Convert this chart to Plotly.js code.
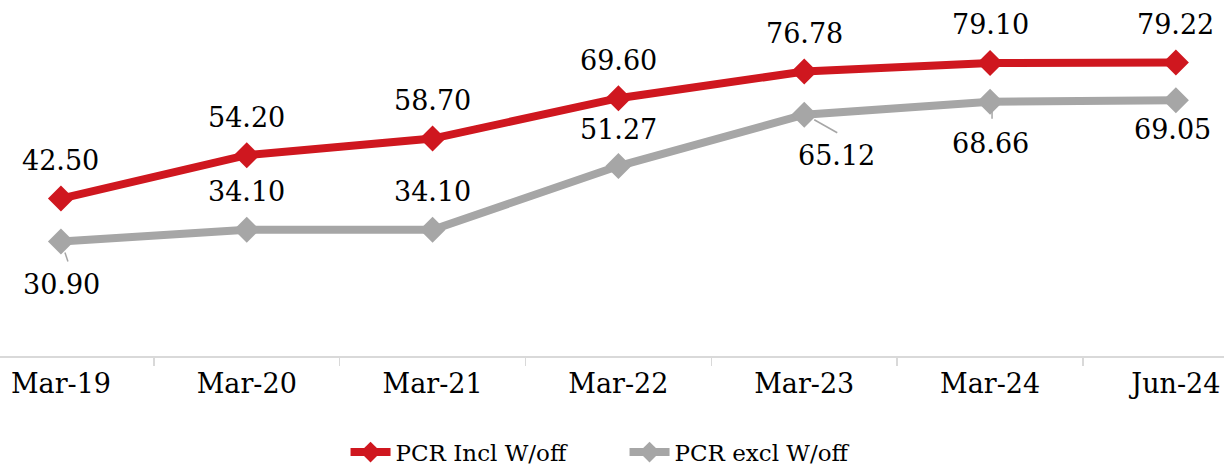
<!DOCTYPE html>
<html><head><meta charset="utf-8">
<script src="https://cdn.plot.ly/plotly-3.0.1.min.js"></script>
<style>
html,body{margin:0;padding:0;background:#fff}#chart{width:1224px;height:468px}
</style>
</head><body><div id="chart"></div>
<script>
const categories = ["Mar-19","Mar-20","Mar-21","Mar-22","Mar-23","Mar-24","Jun-24"];
const pcrIncl = [42.50, 54.20, 58.70, 69.60, 76.78, 79.10, 79.22];
const pcrExcl = [30.90, 34.10, 34.10, 51.27, 65.12, 68.66, 69.05];
const seriesNames = ["PCR Incl W/off", "PCR excl W/off"];

// label placement (pixel offsets from the point; positive y = up)
const inclOffsets = [[0,38],[0,38],[0,38],[0,38],[0,38],[0,38],[0,38]];
const exclOffsets = [[1,-43],[0,38],[0,38],[0,37],[32,-41],[0,-42],[-3,-29]];
// leader lines: [index, x0, y0, x1, y1] in pixels relative to point
const exclLeaders = [[0,4,-11,7,-20],[4,10,-5,33,-18],[5,2,-10,2,-17]];

const RED = "#cf171f", GRAY = "#a6a6a6";
const FONT = "DejaVu Serif";

const traces = [
  {x: categories, y: pcrIncl, name: seriesNames[0], type: "scatter", mode: "lines+markers",
   line: {color: RED, width: 8}, marker: {symbol: "diamond", size: 20, color: RED}},
  {x: categories, y: pcrExcl, name: seriesNames[1], type: "scatter", mode: "lines+markers",
   line: {color: GRAY, width: 8}, marker: {symbol: "diamond", size: 20, color: GRAY}}
];

const annotations = [];
categories.forEach((c,i)=>{
  annotations.push({x: i, y: pcrIncl[i], xref:"x", yref:"y", text: pcrIncl[i].toFixed(2),
    showarrow:false, xshift: inclOffsets[i][0], yshift: inclOffsets[i][1],
    font:{family:FONT, size:27, color:"#000"}});
  annotations.push({x: i, y: pcrExcl[i], xref:"x", yref:"y", text: pcrExcl[i].toFixed(2),
    showarrow:false, xshift: exclOffsets[i][0], yshift: exclOffsets[i][1],
    font:{family:FONT, size:27, color:"#000"}});
});
const shapes = exclLeaders.map(l=>({type:"line", xref:"x", yref:"y",
  xsizemode:"pixel", ysizemode:"pixel", xanchor:l[0], yanchor:pcrExcl[l[0]],
  x0:l[1], y0:l[2], x1:l[3], y1:l[4], line:{color:GRAY, width:1.5}}));

const layout = {
  width:1224, height:468,
  font:{family:FONT, size:27, color:"#000"},
  margin:{l:0, r:0, t:0, b:112, autoexpand:false},
  paper_bgcolor:"#fff", plot_bgcolor:"#fff",
  showlegend:true,
  legend:{orientation:"h", x:0.2823, xanchor:"left", y:-0.27, yanchor:"middle",
    font:{family:FONT, size:23, color:"#000"}, entrywidth:224, itemwidth:40},
  xaxis:{type:"category", range:[-0.328, 6.259], showgrid:false, zeroline:false,
    showline:true, linecolor:"#d9d9d9", linewidth:1.5,
    ticks:"outside", tickson:"boundaries", ticklen:8, tickcolor:"#d9d9d9", tickwidth:1.5,
    ticklabelstandoff:3,
    tickfont:{family:FONT, size:27, color:"#000"}, fixedrange:true},
  yaxis:{range:[0, 96.1], visible:false, fixedrange:true},
  annotations: annotations, shapes: shapes
};
Plotly.newPlot("chart", traces, layout, {displayModeBar:false, staticPlot:true});
</script></body></html>
